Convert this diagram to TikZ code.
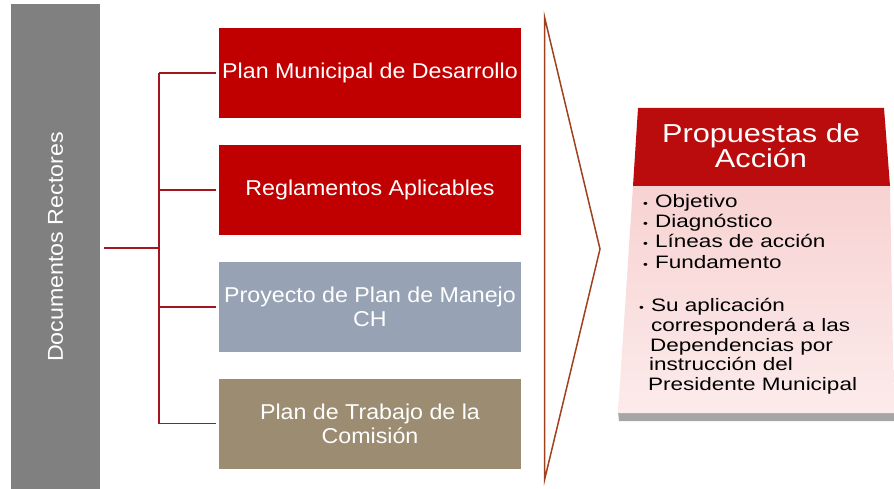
\documentclass[tikz,border=0pt]{standalone}
\usepackage{fontspec}
\setmainfont{Liberation Sans}
\newfontfamily\boxfont[FakeStretch=1.08]{Liberation Sans}
\newfontfamily\headfont[FakeStretch=1.18]{Liberation Sans}
\newfontfamily\bodyfont[FakeStretch=1.25]{Liberation Sans}
\usetikzlibrary{positioning}
\definecolor{docgray}{HTML}{808080}
\definecolor{planred}{HTML}{C00000}
\definecolor{proyblue}{HTML}{97A3B5}
\definecolor{trabtan}{HTML}{9C8C72}
\definecolor{linkred}{HTML}{A6141E}
\definecolor{chevbrown}{HTML}{A0401E}
\definecolor{headred}{HTML}{BA0C0C}
\definecolor{bodypink}{HTML}{F8D2D2}
\definecolor{bodylight}{HTML}{FCEBEB}
\definecolor{shadowgray}{HTML}{A6A6A6}
\newcommand{\blt}{\makebox[12pt][l]{\fontsize{11}{11}\selectfont\textbullet}}
\begin{document}
\begin{tikzpicture}[x=1pt,y=-1pt,node distance=26.5pt,
		doc/.style={rectangle,inner sep=2pt,minimum width=302pt,minimum height=90pt,text=white,align=center,font=\boxfont\fontsize{21.5}{24.5}\selectfont},
		link/.style={linkred,line width=1.5pt}]
	\useasboundingbox (0,0) rectangle (894,489);
	\node[fill=docgray,minimum width=89.5pt,minimum height=486pt,inner sep=0pt] (docs) at (55.5,247) {};
	\node[rotate=90,text=white,font=\boxfont\fontsize{21.5}{24.5}\selectfont] (docstxt) at (docs.center) {Documentos Rectores};
	\node[doc,fill=planred] (pmd) at (370,73) {Plan Municipal de Desarrollo};
	\node[doc,fill=planred,below=of pmd] (reg) {Reglamentos Aplicables};
	\node[doc,fill=proyblue,below=of reg] (proy) {Proyecto de Plan de Manejo\\CH};
	\node[doc,fill=trabtan,below=of proy] (trab) {Plan de Trabajo de la\\Comisión};
	\coordinate (hub) at (159,248);
	\draw[link,shorten <=3.5pt] (docs.east |- hub) -- (hub);
	\draw[link] (hub |- pmd.west) -- (hub |- trab.west);
	\foreach \b in {pmd,reg,proy,trab}
		\draw[link,shorten >=3pt] (hub |- \b.west) -- (\b.west);
	\coordinate (chevtop) at (544.5,17);
	\coordinate (chevtip) at (600,249);
	\coordinate (chevbot) at (544.5,480);
	\draw[chevbrown,line width=1.5pt,line join=miter] (chevtop) -- (chevtip) -- (chevbot) -- cycle;
	\fill[shadowgray] (618,412) -- (894,412) -- (894,421) -- (619,421) -- cycle;
	\shade[top color=bodypink,bottom color=bodylight] (633,186) -- (890,186) -- (894,413) -- (618,413) -- cycle;
	\fill[headred] (638,108) -- (884,108) -- (890,186) -- (633,186) -- cycle;
	\node[text=white,align=center,font=\headfont\fontsize{26}{25}\selectfont] (prop) at (761,146) {Propuestas de\\Acción};
	\node[anchor=north west,align=left,inner sep=0pt,font=\bodyfont\fontsize{18}{20.3}\selectfont] (items) at (643,194) {\blt Objetivo\\\blt Diagnóstico\\\blt Líneas de acción\\\blt Fundamento};
	\node[anchor=north west,align=left,inner sep=0pt,font=\bodyfont\fontsize{18}{19.8}\selectfont] (aplic) at (639,298) {\blt Su aplicación\\\hspace*{12pt}corresponderá a las\\\hspace*{11pt}Dependencias por\\\hspace*{10pt}instrucción del\\\hspace*{9pt}Presidente Municipal};
\end{tikzpicture}
\end{document}
